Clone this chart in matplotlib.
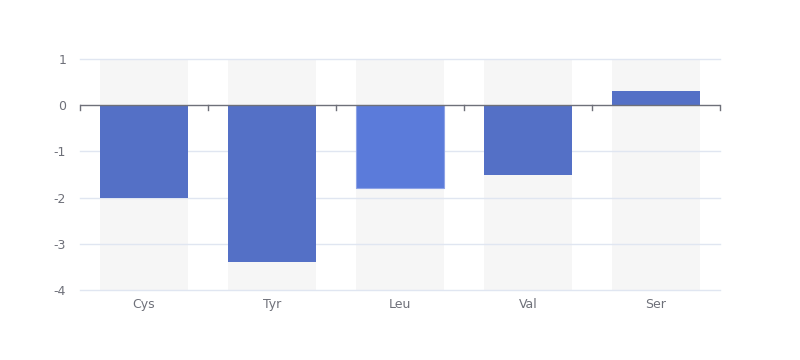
import matplotlib
matplotlib.use("Agg")
import matplotlib.pyplot as plt
import numpy as np

categories = ["Cys", "Tyr", "Leu", "Val", "Ser"]
values = [-2.0, -3.4, -1.8, -1.5, 0.3]
bar_colors = ["#5470c6", "#5470c6", "#5b7bda", "#5470c6", "#5470c6"]
yticks = [-4, -3, -2, -1, 0, 1]

fig = plt.figure(figsize=(8, 3.6), dpi=100)
ax = fig.add_axes([0.1, 1 - 290/360, 0.8, 231/360])

x = np.arange(len(categories))
width = 88/128
ax.set_xlim(-0.5, len(categories) - 0.5)
ax.set_ylim(-4, 1)

# background shadow bars
ax.bar(x, [5]*len(x), bottom=-4, width=width, color="#f6f6f6", zorder=0)

for xi, v, c in zip(x, values, bar_colors):
    if c == "#5b7bda":
        ax.bar(xi, v, width=width, color=c, edgecolor="#8ea3e6", linewidth=0.8, zorder=3)
    else:
        ax.bar(xi, v, width=width, color=c, zorder=3)

for t in yticks:
    if t != 0:
        ax.axhline(t, color="#E0E6F1", linewidth=1, zorder=1, clip_on=False)

ax.axhline(0, color="#6E7079", linewidth=1, zorder=4)
# category boundary ticks on zero line
for b in np.arange(-0.5, len(categories), 1.0):
    ax.plot([b, b], [0, -5/46.2], color="#6E7079", linewidth=1, zorder=4, clip_on=False)

for s in ax.spines.values():
    s.set_visible(False)

ax.set_yticks(yticks)
ax.set_yticklabels([str(t) for t in yticks])
ax.tick_params(axis="y", length=0, pad=10, labelsize=9, labelcolor="#6E7079")
ax.set_xticks(x)
ax.set_xticklabels(categories)
ax.tick_params(axis="x", length=0, pad=6, labelsize=9, labelcolor="#6E7079")

fig.savefig("out.png", dpi=100)
